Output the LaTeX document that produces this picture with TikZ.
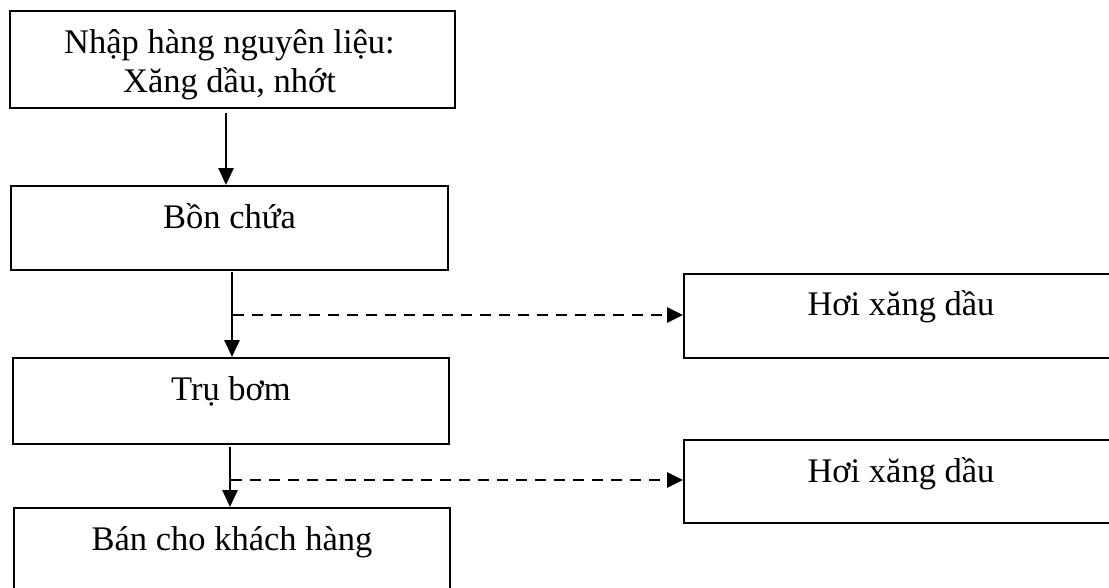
\documentclass[tikz,border=0pt]{standalone}
\usepackage{fontspec}
\setmainfont{Liberation Serif}
\usetikzlibrary{arrows.meta,calc}
\begin{document}
\begin{tikzpicture}[x=1pt,y=-1pt,
  box/.style={draw=black,line width=2pt,rectangle,anchor=north west,inner sep=0pt},
  lbl/.style={anchor=base,inner sep=0pt,font=\fontsize{34.5}{40}\selectfont},
  flow/.style={line width=2.8pt,-{Triangle[length=17pt,width=15pt]}},
  vapour/.style={line width=2.8pt,dash pattern=on 11pt off 8pt,-{Triangle[length=16pt,width=15pt]}}]
  \useasboundingbox (0,0) rectangle (1109,587);
  % process boxes
  \node[box,minimum width=445pt,minimum height=97pt] (b1) at (9,10) {};
  \node[box,minimum width=437pt,minimum height=84pt] (b2) at (10,185) {};
  \node[box,minimum width=436pt,minimum height=86pt] (b3) at (12,357) {};
  \node[box,minimum width=436pt,minimum height=100pt] (b5) at (13,507) {};
  \node[box,minimum width=426pt,minimum height=84pt] (b4) at (683,273) {};
  \node[box,minimum width=426pt,minimum height=83pt] (b6) at (683,439) {};
  % labels
  \node[lbl] (t1a) at ($(b1.north)+(-3,43)$) {Nhập hàng nguyên liệu:};
  \node[lbl] (t1b) at ($(b1.north)+(-3,82)$) {Xăng dầu, nhớt};
  \node[lbl] (t2) at ($(b2.north)+(0,43)$) {Bồn chứa};
  \node[lbl] (t3) at ($(b3.north)+(0,43)$) {Trụ bơm};
  \node[lbl] (t5) at ($(b5.north)+(0,43)$) {Bán cho khách hàng};
  \node[lbl] (t4) at ($(b4.north)+(4,42)$) {Hơi xăng dầu};
  \node[lbl] (t6) at ($(b6.north)+(4,43)$) {Hơi xăng dầu};
  % connector start points
  \coordinate (s1) at (226,113);
  \coordinate (s2) at (232,272);
  \coordinate (s3) at (230,447);
  \coordinate (d1) at (233,315);
  \coordinate (d2) at (231,480);
  % main flow
  \draw[flow] (s1) -- (s1 |- b2.north);
  \draw[flow] (s2) -- (s2 |- b3.north);
  \draw[flow] (s3) -- (s3 |- b5.north);
  % vapour losses
  \draw[vapour] (d1) -- (d1 -| b4.west);
  \draw[vapour] (d2) -- (d2 -| b6.west);
\end{tikzpicture}
\end{document}
